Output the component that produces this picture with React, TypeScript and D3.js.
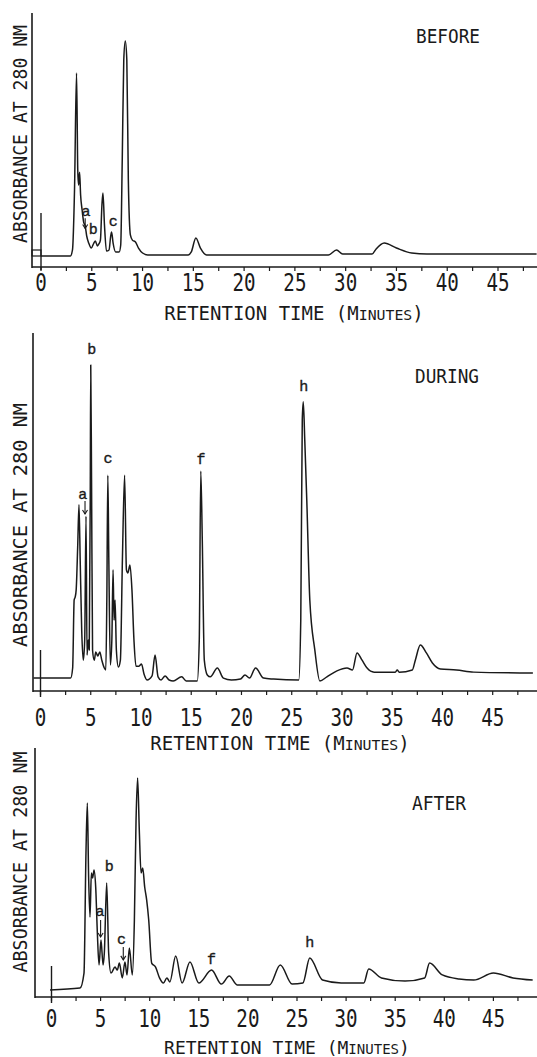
import React from 'react';
import * as d3 from 'd3';

// ---------- data ----------
const tickLabels = [0, 5, 10, 15, 20, 25, 30, 35, 40, 45];
const minorTicks = [0, 2.5, 5, 7.5, 10, 12.5, 15, 17.5, 20, 22.5, 25, 27.5, 30, 32.5, 35, 37.5, 40, 42.5, 45, 47.5];

// BEFORE chromatogram (retention time in minutes, absorbance in % of tallest peak)
const beforeTime = [0, 2.9, 3.1, 3.3, 3.5, 3.62, 3.7, 3.8, 3.9, 4.05, 4.2, 4.35, 4.5, 4.7, 4.95, 5.2, 5.35, 5.55, 5.7, 5.85, 6.0, 6.1, 6.25, 6.45, 6.7, 6.85, 6.95, 7.1, 7.35, 7.7, 7.85, 8.0, 8.15, 8.3, 8.45, 8.6, 8.8, 9.0, 9.3, 9.6, 10.0, 10.5, 14.5, 14.8, 15.25, 15.7, 16.3, 28.3, 29.1, 29.7, 32.6, 33.0, 33.8, 35.0, 36.5, 38, 48.8];
const beforeAbs = [0, 0, 2.8, 30.7, 85.1, 40, 33, 39, 28.4, 21.4, 15.8, 14, 9.3, 6, 3.7, 6, 7, 4.7, 5.6, 7.4, 23.7, 29.3, 14.4, 2.3, 2.8, 8.8, 11.2, 6, 1.9, 1.9, 5.1, 44.7, 91.2, 100, 91.2, 35.3, 9.8, 7.4, 6.5, 3.7, 1.4, 0.5, 0.5, 1.9, 8.4, 3.7, 0.5, 0.5, 2.8, 0.9, 0.9, 3.3, 6, 3.7, 1.4, 0.9, 0.9];
const beforePeakNames = ['a', 'b', 'c'];
const beforePeakTime = [4.43, 5.15, 7.12];
const beforePeakAbs = [18.6, 10.2, 14];
const beforeArrowTime = [4.35];
const beforeArrowFrom = [17.6];
const beforeArrowTo = [12.8];

// DURING chromatogram
const duringTime = [-0.7, 3.0, 3.2, 3.35, 3.45, 3.55, 3.7, 3.83, 3.95, 4.1, 4.26, 4.4, 4.53, 4.63, 4.75, 4.85, 4.95, 5.0, 5.08, 5.18, 5.35, 5.5, 5.7, 5.9, 6.1, 6.35, 6.5, 6.6, 6.7, 6.8, 6.95, 7.1, 7.22, 7.32, 7.42, 7.55, 7.75, 7.95, 8.15, 8.37, 8.55, 8.7, 8.9, 9.1, 9.3, 9.5, 9.8, 10.05, 10.3, 10.6, 11.1, 11.4, 11.7, 12.0, 12.4, 12.8, 13.2, 14.05, 14.5, 15.6, 15.8, 15.95, 16.1, 16.3, 16.6, 16.9, 17.6, 18.2, 19.0, 19.9, 20.35, 20.8, 21.4, 22.2, 23.2, 25.7, 25.9, 26.05, 26.15, 26.3, 26.5, 26.8, 27.3, 27.8, 28.5, 29.5, 30.5, 31.05, 31.5, 32.0, 32.5, 33.2, 35.3, 35.5, 35.7, 37.0, 37.3, 37.8, 38.4, 39.0, 39.8, 41.4, 43.1, 49.0];
const duringAbs = [0.6, 0.6, 3.8, 25.4, 26.3, 28.6, 42.2, 55.6, 38, 15.9, 6.3, 12.7, 52, 7.9, 12.7, 9.5, 57, 100, 63.5, 9.5, 6.3, 8.9, 7.6, 8.9, 6.3, 3.8, 3.2, 25.4, 65, 38, 4.8, 12.7, 35, 19, 25.4, 9.5, 4.1, 6.3, 38, 65, 35, 34, 36.5, 28.6, 12.7, 4.4, 4.4, 5.1, 1.9, 0, 1.3, 7.9, 1, 0, 1.3, 0, -0.3, 1, -0.3, -0.3, 12.7, 66.3, 44.4, 6.3, 1.6, 1, 3.8, 0.6, 0, 0.3, 1.6, 0.6, 3.8, 0.6, 0.3, 0, 19, 82.5, 88.3, 76, 57, 25.4, 9.5, -0.3, 1, 2.9, 3.8, 3.2, 8.6, 6.3, 3.8, 2.5, 2.5, 3.2, 2.5, 3.2, 6.3, 11.1, 8.6, 5.4, 3.5, 3.2, 2.5, 2.2];
const duringPeakNames = ['a', 'b', 'c', 'f', 'h'];
const duringPeakTime = [4.2, 5.09, 6.72, 15.97, 26.2];
const duringPeakAbs = [57.5, 103.5, 68.9, 68.6, 91.7];
const duringArrowTime = [4.43];
const duringArrowFrom = [56.8];
const duringArrowTo = [52.7];

// AFTER chromatogram
const afterTime = [-0.15, 2.9, 3.31, 3.51, 3.65, 3.78, 3.92, 4.06, 4.19, 4.33, 4.5, 4.67, 4.84, 5.04, 5.25, 5.38, 5.62, 5.82, 6.06, 6.47, 6.7, 6.91, 7.21, 7.48, 7.69, 7.93, 8.23, 8.44, 8.61, 8.77, 8.94, 9.12, 9.29, 9.49, 9.69, 9.9, 10.2, 10.6, 11.0, 11.4, 11.75, 12.05, 12.65, 13.3, 14.1, 15.0, 16.3, 17.3, 18.1, 18.9, 22.2, 23.3, 24.5, 25.6, 26.3, 27.6, 29.5, 31.8, 32.3, 33.6, 36, 38.0, 38.5, 39.8, 41.5, 43, 45, 47, 49];
const afterAbs = [0, 0.9, 8, 64.6, 88.2, 53.3, 34.4, 55.2, 52.8, 56.6, 48.6, 26.9, 11.8, 23.6, 11.8, 17.5, 50.5, 17.5, 8, 10.8, 9.4, 12.7, 5.7, 13.2, 7.1, 19.8, 7.1, 33, 80.2, 100, 75.5, 55.2, 57.5, 48.6, 42.5, 33, 12.7, 10.8, 5.7, 3.3, 5.7, 3.8, 16, 3.3, 13.2, 3.3, 9.4, 2.8, 6.6, 2.4, 2.4, 11.8, 2.8, 3.3, 15.1, 4.7, 3.3, 3.3, 9.9, 5.7, 4.2, 5.7, 12.7, 7.1, 5.2, 4.7, 8, 5.7, 4.7];
const afterPeakNames = ['a', 'b', 'c', 'f', 'h'];
const afterPeakTime = [4.94, 5.89, 7.14, 16.3, 26.3];
const afterPeakAbs = [34.9, 56.1, 21.7, 12.3, 20.3];
const afterArrowTime = [5.0, 7.31];
const afterArrowFrom = [33, 20.3];
const afterArrowTo = [25, 14.2];

const yTitle = 'ABSORBANCE AT 280 NM';

// ---------- layout ----------
type Panel = {
  name: string; nameX: number; nameY: number; nameLen: number;
  axisX: number; axisTop: number; axisY: number;
  x0: number; x45: number; base: number; top: number;
  injTop: number; injBot: number;
  digitsY: number; titleX: number; titleY: number; titleSize: number;
  yTitleX: number; yTitleCY: number; yTitleLen: number;
  time: number[]; abs: number[];
  peakNames: string[]; peakTime: number[]; peakAbs: number[];
  arrowTime: number[]; arrowFrom: number[]; arrowTo: number[];
  box?: boolean;
};

const panels: Panel[] = [
  {
    name: 'BEFORE', nameX: 448, nameY: 43, nameLen: 64,
    axisX: 32, axisTop: 13, axisY: 267,
    x0: 41, x45: 498, base: 256, top: 41,
    injTop: 213, injBot: 270,
    digitsY: 291, titleX: 294, titleY: 320, titleSize: 19,
    yTitleX: 27, yTitleCY: 134, yTitleLen: 218,
    time: beforeTime, abs: beforeAbs,
    peakNames: beforePeakNames, peakTime: beforePeakTime, peakAbs: beforePeakAbs,
    arrowTime: beforeArrowTime, arrowFrom: beforeArrowFrom, arrowTo: beforeArrowTo,
    box: true,
  },
  {
    name: 'DURING', nameX: 447, nameY: 383, nameLen: 64,
    axisX: 33, axisTop: 333, axisY: 691,
    x0: 40.5, x45: 492.7, base: 680, top: 365,
    injTop: 650, injBot: 697,
    digitsY: 726, titleX: 280, titleY: 750, titleSize: 19,
    yTitleX: 27, yTitleCY: 525, yTitleLen: 244,
    time: duringTime, abs: duringAbs,
    peakNames: duringPeakNames, peakTime: duringPeakTime, peakAbs: duringPeakAbs,
    arrowTime: duringArrowTime, arrowFrom: duringArrowFrom, arrowTo: duringArrowTo,
  },
  {
    name: 'AFTER', nameX: 439, nameY: 810, nameLen: 54,
    axisX: 35, axisTop: 748, axisY: 997,
    x0: 51.5, x45: 493.4, base: 990, top: 778,
    injTop: 966, injBot: 1003,
    digitsY: 1027, titleX: 287, titleY: 1054, titleSize: 18,
    yTitleX: 27, yTitleCY: 862, yTitleLen: 221,
    time: afterTime, abs: afterAbs,
    peakNames: afterPeakNames, peakTime: afterPeakTime, peakAbs: afterPeakAbs,
    arrowTime: afterArrowTime, arrowFrom: afterArrowFrom, arrowTo: afterArrowTo,
  },
];

const MONO = '"DejaVu Sans Mono", monospace';
const LETTER = '"Liberation Mono", "Courier New", monospace';
const INK = '#1a1a1a';

function PanelView({ p }: { p: Panel }) {
  const x = d3.scaleLinear().domain([0, 45]).range([p.x0, p.x45]);
  const y = d3.scaleLinear().domain([0, 100]).range([p.base, p.top]);
  const pts = p.time.map((t, i) => [t, p.abs[i]] as [number, number]);
  const line = d3.line<[number, number]>()
    .x(d => x(d[0]))
    .y(d => y(d[1]))
    .curve(d3.curveMonotoneX);
  const right = 537;
  return (
    <g>
      {/* axes */}
      <line x1={p.axisX} x2={p.axisX} y1={p.axisTop} y2={p.axisY + 1} stroke={INK} strokeWidth={1.6} />
      <line x1={p.axisX} x2={right} y1={p.axisY} y2={p.axisY} stroke={INK} strokeWidth={1.6} />
      {minorTicks.map(t => (
        x(t) > p.axisX && x(t) < right ? (
          <line key={t} x1={x(t)} x2={x(t)} y1={p.axisY} y2={p.axisY + 4} stroke={INK} strokeWidth={1.2} />
        ) : null
      ))}
      {tickLabels.map(t => (
        <text key={t} x={x(t)} y={p.digitsY} textAnchor="middle" fontFamily={MONO} fontSize={24} fill={INK}
          transform={`translate(${x(t)},0) scale(0.8,1) translate(${-x(t)},0)`}>{t}</text>
      ))}
      <text x={p.titleX} y={p.titleY} textAnchor="middle" fontFamily={MONO} fontSize={p.titleSize} fill={INK}>
        RETENTION TIME (M<tspan fontSize={p.titleSize * 0.78}>INUTES</tspan>)
      </text>
      <text x={p.yTitleX} y={p.yTitleCY} textAnchor="middle" fontFamily={MONO} fontSize={19} fill={INK}
        textLength={p.yTitleLen} lengthAdjust="spacingAndGlyphs"
        transform={`rotate(-90, ${p.yTitleX}, ${p.yTitleCY})`}>{yTitle}</text>
      <text x={p.nameX} y={p.nameY} textAnchor="middle" fontFamily={MONO} fontSize={19} fill={INK}
        textLength={p.nameLen} lengthAdjust="spacingAndGlyphs">{p.name}</text>
      {/* injection mark */}
      <line x1={x(0)} x2={x(0)} y1={p.injTop} y2={p.injBot} stroke={INK} strokeWidth={1.4} />
      {p.box ? (
        <rect x={p.axisX} y={p.base - 6} width={x(0) - p.axisX} height={6} fill="none" stroke={INK} strokeWidth={1.2} />
      ) : null}
      {/* trace */}
      <path d={line(pts) || ''} fill="none" stroke={INK} strokeWidth={1.5} strokeLinejoin="round" />
      {/* peak letters */}
      {p.peakNames.map((n, i) => (
        <text key={n + i} x={x(p.peakTime[i])} y={y(p.peakAbs[i])} textAnchor="middle" fontFamily={LETTER}
          fontSize={15} fill={INK} stroke={INK} strokeWidth={0.35}>{n}</text>
      ))}
      {p.arrowTime.map((t, i) => {
        const ax = x(t), y1 = y(p.arrowFrom[i]), y2 = y(p.arrowTo[i]);
        return (
          <g key={i}>
            <line x1={ax} x2={ax} y1={y1} y2={y2} stroke={INK} strokeWidth={1.1} />
            <path d={`M${ax - 2.5},${y2 - 4} L${ax},${y2} L${ax + 2.5},${y2 - 4}`} fill="none" stroke={INK} strokeWidth={1.1} />
          </g>
        );
      })}
    </g>
  );
}

export default function App() {
  return (
    <svg width={537} height={1057} style={{ position: 'absolute', left: 0, top: 0, background: '#fff' }}>
      <rect x={0} y={0} width={537} height={1057} fill="#fff" />
      {panels.map(p => <PanelView key={p.name} p={p} />)}
    </svg>
  );
}
